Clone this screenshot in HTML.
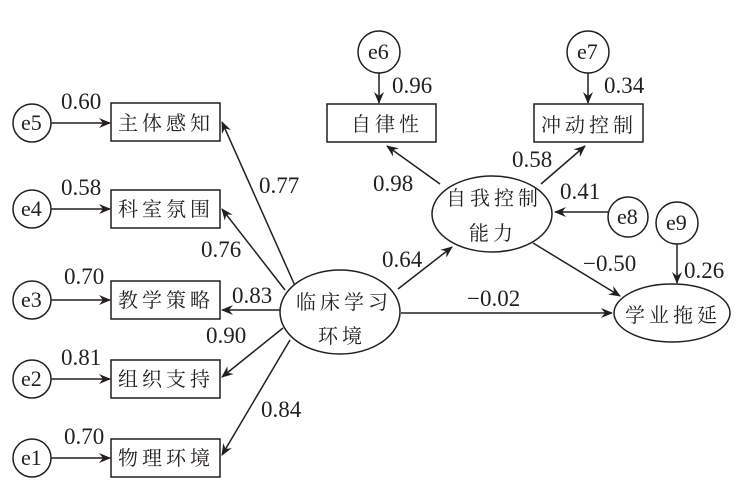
<!DOCTYPE html>
<html><head><meta charset="utf-8"><style>
html,body{margin:0;padding:0;background:#fff;}
svg{display:block;}
text{font-family:"Liberation Serif","Noto Serif CJK SC",serif;font-size:22px;fill:#231f20;}
.c{font-family:"Liberation Serif","Noto Serif CJK SC",serif;font-size:20px;letter-spacing:4px;}
.n{font-family:"Liberation Serif",serif;font-size:23px;}
</style></head><body>
<svg width="743" height="486" viewBox="0 0 743 486" xmlns="http://www.w3.org/2000/svg">
<defs><marker id="a" viewBox="0 0 12 10" refX="11" refY="5" markerWidth="12" markerHeight="10" markerUnits="userSpaceOnUse" orient="auto"><path d="M0,0 L12,5 L0,10 L4,5 Z" fill="#231f20"/></marker></defs>
<g stroke="#231f20" stroke-width="1.5" fill="none">
<rect x="111" y="103" width="109" height="38"/>
<rect x="111" y="190" width="109" height="38"/>
<rect x="111" y="281" width="109" height="38"/>
<rect x="111" y="360" width="109" height="38"/>
<rect x="111" y="439" width="109" height="38"/>
<circle cx="32" cy="123" r="19"/><circle cx="32" cy="209" r="19"/><circle cx="32" cy="300" r="19"/><circle cx="32" cy="379" r="19"/><circle cx="32" cy="458" r="19"/>
</g>
<g stroke="#231f20" stroke-width="1.5" marker-end="url(#a)">
<line x1="51" y1="123" x2="110" y2="123"/><line x1="51" y1="209" x2="110" y2="209"/><line x1="51" y1="300" x2="110" y2="300"/><line x1="51" y1="379" x2="110" y2="379"/><line x1="51" y1="458" x2="110" y2="458"/>
<line x1="296" y1="288" x2="222" y2="122"/>
<line x1="285" y1="290" x2="222" y2="209"/>
<line x1="281" y1="310" x2="222" y2="310"/>
<line x1="283" y1="328" x2="222" y2="377"/>
<line x1="290" y1="340" x2="222" y2="455"/>
<line x1="379" y1="73" x2="379" y2="103"/>
<line x1="588" y1="73" x2="588" y2="103"/>
<line x1="440" y1="184" x2="387" y2="146"/>
<line x1="541" y1="184" x2="585" y2="146"/>
<line x1="608" y1="212" x2="555" y2="212"/>
<line x1="677" y1="244" x2="677" y2="283"/>
<line x1="533" y1="243" x2="620" y2="296"/>
<line x1="401" y1="313" x2="612" y2="313"/>
<line x1="398" y1="289" x2="452" y2="247"/>
</g>
<g stroke="#231f20" stroke-width="1.5" fill="none">
<circle cx="379" cy="52" r="21"/><circle cx="588" cy="52" r="21"/>
<circle cx="628" cy="217" r="20"/><circle cx="677" cy="223" r="21"/>
<rect x="327" y="104" width="109" height="38"/><rect x="534" y="104" width="109" height="38"/>
<ellipse cx="492" cy="214" rx="60" ry="38" fill="#fff"/>
<ellipse cx="672" cy="313" rx="58" ry="29" fill="#fff"/>
<ellipse cx="340" cy="312" rx="60" ry="42" fill="#fff"/>
</g>
<g>
<text x="118" y="130" class="c">主体感知</text>
<text x="118" y="216" class="c">科室氛围</text>
<text x="118" y="307" class="c">教学策略</text>
<text x="118" y="386" class="c">组织支持</text>
<text x="118" y="465" class="c">物理环境</text>
<text x="351" y="131" class="c">自律性</text>
<text x="541" y="132" class="c">冲动控制</text>
<text x="446" y="205" class="c">自我控制</text>
<text x="469" y="240" class="c">能力</text>
<text x="625" y="322" class="c">学业拖延</text>
<text x="296" y="309" class="c">临床学习</text>
<text x="318" y="343" class="c">环境</text>
</g>
<g>
<text x="21" y="130">e5</text><text x="21" y="216">e4</text><text x="21" y="307">e3</text><text x="21" y="386">e2</text><text x="21" y="465">e1</text>
<text x="368" y="59">e6</text><text x="577" y="59">e7</text><text x="617" y="224">e8</text><text x="666" y="230">e9</text>
</g>
<g>
<text class="n" x="61" y="109">0.60</text>
<text class="n" x="61" y="195">0.58</text>
<text class="n" x="64" y="284">0.70</text>
<text class="n" x="61" y="365">0.81</text>
<text class="n" x="64" y="444">0.70</text>
<text class="n" x="259" y="193">0.77</text>
<text class="n" x="201" y="257">0.76</text>
<text class="n" x="232" y="303">0.83</text>
<text class="n" x="206" y="343">0.90</text>
<text class="n" x="261" y="417">0.84</text>
<text class="n" x="392" y="93">0.96</text>
<text class="n" x="604" y="93">0.34</text>
<text class="n" x="373" y="191">0.98</text>
<text class="n" x="512" y="167">0.58</text>
<text class="n" x="560" y="199">0.41</text>
<text class="n" x="583" y="271">−0.50</text>
<text class="n" x="684" y="278">0.26</text>
<text class="n" x="382" y="267">0.64</text>
<text class="n" x="467" y="306">−0.02</text>
</g>
</svg>
</body></html>
